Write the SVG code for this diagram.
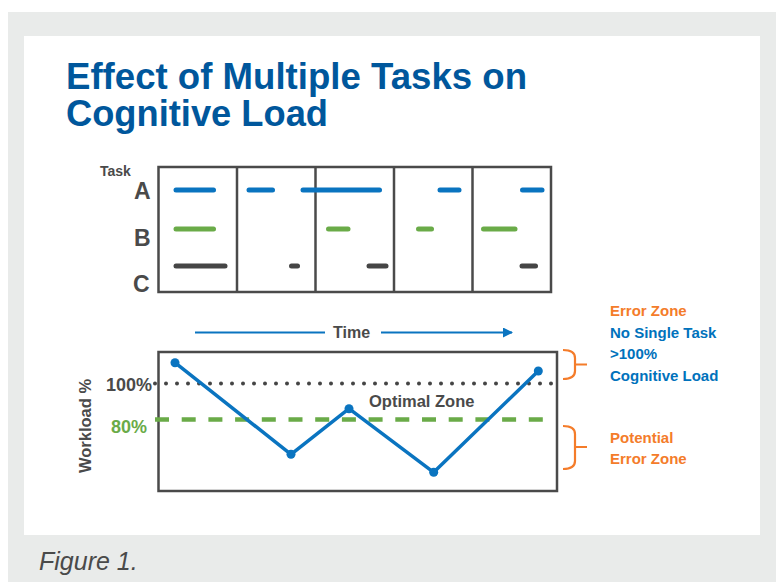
<svg xmlns="http://www.w3.org/2000/svg" width="784" height="582" viewBox="0 0 784 582">
<defs>
<style>
.t{font-family:"Liberation Sans",Arial,sans-serif;font-weight:bold}
.gray{fill:#4a4a4a}
.blue{fill:#0072bc}
.orange{fill:#f47c2a}
.bar{fill:none;stroke-width:5;stroke-linecap:round}
.ba{stroke:#0a74c0}
.bb{stroke:#6aab48}
.bc{stroke:#454545}
.brace{fill:none;stroke:#f47c2a;stroke-width:2.2}
</style>
<marker id="arr" markerWidth="10" markerHeight="10" refX="9" refY="5" orient="auto" markerUnits="userSpaceOnUse" viewBox="0 0 10 10">
<path d="M0,0 L10,5 L0,10 z" fill="#0a74c0"/>
</marker>
</defs>
<rect x="0" y="0" width="784" height="582" fill="#ffffff"/>
<rect x="8" y="12" width="768" height="570" fill="#e9ebea"/>
<rect x="24" y="36" width="736" height="499" fill="#ffffff"/>

<g id="title">
<text class="t" x="66" y="89" font-size="36" fill="#00579c" textLength="461" lengthAdjust="spacingAndGlyphs">Effect of Multiple Tasks on</text>
<text class="t" x="66" y="126" font-size="36" fill="#00579c" textLength="262" lengthAdjust="spacingAndGlyphs">Cognitive Load</text>
</g>

<g id="task-chart">
<rect x="158.5" y="167" width="392.5" height="125" fill="none" stroke="#4a4a4a" stroke-width="2.5"/>
<line x1="237" y1="167" x2="237" y2="292" stroke="#4a4a4a" stroke-width="2.5"/>
<line x1="315.5" y1="167" x2="315.5" y2="292" stroke="#4a4a4a" stroke-width="2.5"/>
<line x1="394" y1="167" x2="394" y2="292" stroke="#4a4a4a" stroke-width="2.5"/>
<line x1="472.5" y1="167" x2="472.5" y2="292" stroke="#4a4a4a" stroke-width="2.5"/>
</g>
<g id="task-labels">
<text class="t gray" x="100" y="176" font-size="14">Task</text>
<text class="t gray" x="134" y="199" font-size="23">A</text>
<text class="t gray" x="134" y="246" font-size="23">B</text>
<text class="t gray" x="133" y="292" font-size="23">C</text>
</g>
<g id="task-bars">
<line class="bar ba" x1="176" y1="190" x2="213.5" y2="190"/>
<line class="bar ba" x1="249" y1="190" x2="272.5" y2="190"/>
<line class="bar ba" x1="303" y1="190" x2="379.5" y2="190"/>
<line class="bar ba" x1="440" y1="190" x2="459" y2="190"/>
<line class="bar ba" x1="522.5" y1="190" x2="542" y2="190"/>
<line class="bar bb" x1="176" y1="229" x2="213.5" y2="229"/>
<line class="bar bb" x1="328.5" y1="229" x2="348" y2="229"/>
<line class="bar bb" x1="418.5" y1="229" x2="431.5" y2="229"/>
<line class="bar bb" x1="483.5" y1="229" x2="515" y2="229"/>
<line class="bar bc" x1="176" y1="266" x2="225" y2="266"/>
<line class="bar bc" x1="291.5" y1="266" x2="297.5" y2="266"/>
<line class="bar bc" x1="369" y1="266" x2="386" y2="266"/>
<line class="bar bc" x1="522" y1="266" x2="535.5" y2="266"/>
</g>

<g id="time-axis">
<line x1="195" y1="332.5" x2="325" y2="332.5" stroke="#0a74c0" stroke-width="2"/>
<line x1="381" y1="332.5" x2="512" y2="332.5" stroke="#0a74c0" stroke-width="2" marker-end="url(#arr)"/>
<text class="t gray" x="351.5" y="338" font-size="16" text-anchor="middle">Time</text>
</g>

<g id="workload-chart">
<rect x="158.5" y="352" width="398.5" height="139" fill="none" stroke="#4a4a4a" stroke-width="2.5"/>
<line x1="155" y1="383.5" x2="553" y2="383.5" stroke="#454545" stroke-width="4" stroke-linecap="round" stroke-dasharray="0 11"/>
<line x1="155" y1="419.5" x2="552" y2="419.5" stroke="#6aab48" stroke-width="4.5" stroke-dasharray="14 12.7"/>
<text class="t gray" x="369" y="407" font-size="16.5">Optimal Zone</text>
<polyline points="175,362.7 291,454.3 349,408.7 433.7,472.3 538.3,371" fill="none" stroke="#0a74c0" stroke-width="3.5" stroke-linejoin="round"/>
<g fill="#0a74c0">
<circle cx="175" cy="362.7" r="4.5"/>
<circle cx="291" cy="454.3" r="4.5"/>
<circle cx="349" cy="408.7" r="4.5"/>
<circle cx="433.7" cy="472.3" r="4.5"/>
<circle cx="538.3" cy="371" r="4.5"/>
</g>
</g>
<g id="workload-labels">
<text class="t gray" x="152" y="391" font-size="18" text-anchor="end">100%</text>
<text class="t" x="147" y="433" font-size="18" text-anchor="end" fill="#6aab48">80%</text>
<text class="t gray" font-size="16.5" text-anchor="middle" transform="translate(91,426) rotate(-90)">Workload %</text>
</g>

<g id="error-zone">
<path class="brace" d="M563,350 Q575,350 575,358 L575,371 Q575,379 563,379 M575,364.5 L587,364.5"/>
<text class="t orange" x="610" y="316" font-size="15">Error Zone</text>
<text class="t blue" x="610" y="338" font-size="15">No Single Task</text>
<text class="t blue" x="610" y="359" font-size="15">&gt;100%</text>
<text class="t blue" x="610" y="381" font-size="15">Cognitive Load</text>
</g>
<g id="potential-error-zone">
<path class="brace" d="M563,426 Q575,426 575,434 L575,461 Q575,469 563,469 M575,447 L587,447"/>
<text class="t orange" x="610" y="442.5" font-size="15">Potential</text>
<text class="t orange" x="610" y="463.5" font-size="15">Error Zone</text>
</g>

<text x="39" y="570" font-family="'Liberation Sans',Arial,sans-serif" font-style="italic" font-size="25" fill="#4a4a4a">Figure 1.</text>
</svg>
